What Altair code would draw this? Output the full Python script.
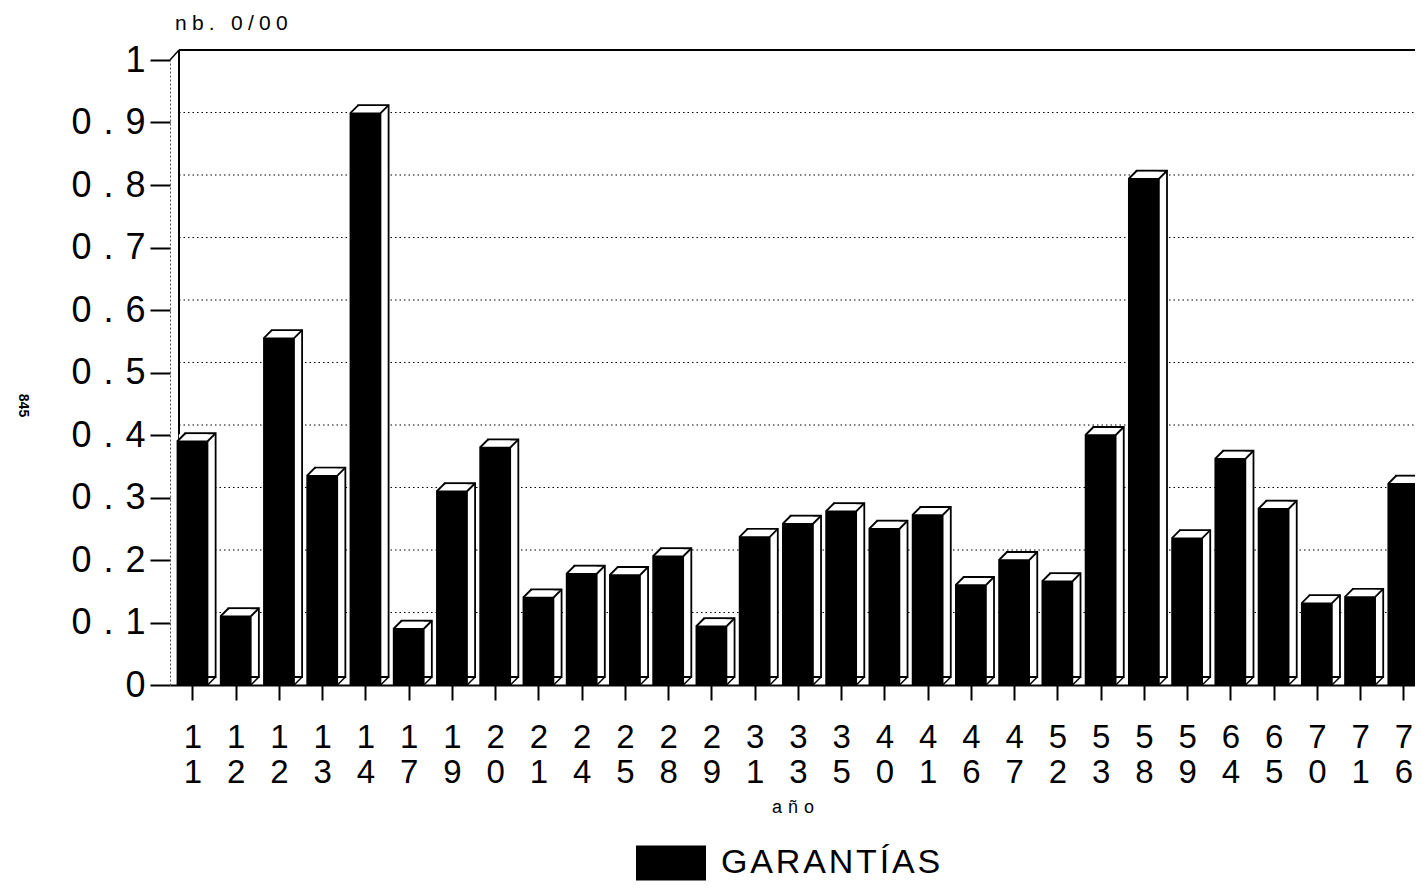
import json
import altair as alt
import pandas as pd

# ---- data ----
years = ["11", "12", "12", "13", "14", "17", "19", "20", "21", "24", "25", "28",
         "29", "31", "33", "35", "40", "41", "46", "47", "52", "53", "58", "59",
         "64", "65", "70", "71", "76"]
values = [0.39, 0.11, 0.555, 0.335, 0.915, 0.09, 0.31, 0.38, 0.14, 0.178, 0.176,
          0.206, 0.094, 0.237, 0.258, 0.278, 0.25, 0.272, 0.16, 0.2, 0.166, 0.40,
          0.81, 0.235, 0.362, 0.282, 0.131, 0.141, 0.322]
grid_levels = [0.1, 0.2, 0.3, 0.4, 0.5, 0.6, 0.7, 0.8, 0.9]
y_ticks = [0, 0.1, 0.2, 0.3, 0.4, 0.5, 0.6, 0.7, 0.8, 0.9, 1]
series = "GARANTÍAS"
y_title = "nb. 0/00"
x_title = "año"

# ---- styling constants ----
FONT = "Liberation Sans"
XMIN, XMAX = -0.52, 28.27
HALF = 0.35
DX, DY = 8, -8      # bar depth
WX, WY = 9, -10     # back wall offset
W, H = 1245, 625
SP3 = "\u2004"      # three-per-em space (letter spacing)
SP5 = "\u2005"      # four-per-em space
HAIR = "\u200a"


def spaced(s, sep):
    return sep.join(list(s))


df = pd.DataFrame({"i": list(range(len(years))), "v": values, "serie": series})
gdf = pd.DataFrame({"g": grid_levels, "x0": XMIN, "x1": XMAX})
fdf = pd.DataFrame({"x0": [XMIN], "x1": [XMAX], "y0": [0.0], "y1": [1.0]})

xs = alt.Scale(domain=[XMIN, XMAX], nice=False, zero=False)
ys = alt.Scale(domain=[0, 1], nice=False, zero=True)

x_label_expr = f"split({json.dumps(years)}[datum.value], '')"
y_label_expr = f"join(split(format(datum.value, '~g'), ''), '{SP3}')"

x_axis = alt.Axis(values=list(range(len(years))), labelExpr=x_label_expr,
                  title=spaced(x_title, SP3),
                  tickSize=15, tickWidth=2, tickColor="black", domainColor="black",
                  domainWidth=2, labelFontSize=33, labelLineHeight=35, labelPadding=21,
                  labelColor="black", labelFont=FONT, labelAngle=0, labelOverlap=False,
                  labelFlush=False, titleFont=FONT, titleFontSize=18,
                  titleFontWeight="normal", titlePadding=9, titleColor="black", grid=False)
y_axis = alt.Axis(values=y_ticks, labelExpr=y_label_expr, tickSize=20, tickWidth=2,
                  tickColor="black", domainDash=[2, 2], domainColor="#555", domainWidth=1,
                  labelFontSize=36, labelFont=FONT, labelColor="black", labelPadding=5,
                  labelFlush=False, labelOverlap=False, grid=False, title="845",
                  titleAngle=90, titleX=-155, titleY=345, titleFontSize=14,
                  titleFontWeight="bold", titleFont=FONT, titleColor="black")


def X(f):
    return alt.X(f, scale=xs, axis=x_axis)


def Y(f):
    return alt.Y(f, scale=ys, axis=y_axis)


base = alt.Chart(df).transform_calculate(lo=f"datum.i - {HALF}", hi=f"datum.i + {HALF}",
                                         z="0")

grid = alt.Chart(gdf).mark_rule(color="black", strokeWidth=1, strokeDash=[1.5, 3],
                                xOffset=WX, x2Offset=WX, yOffset=WY).encode(
    y=Y("g:Q"), x=X("x0:Q"), x2="x1:Q")

frame = alt.Chart(fdf)
wall_left = frame.mark_rule(color="black", strokeWidth=2, xOffset=WX,
                            y2Offset=WY).encode(x=X("x0:Q"), y=Y("y0:Q"), y2="y1:Q")
wall_top = frame.mark_rule(color="black", strokeWidth=2, xOffset=WX, x2Offset=WX,
                           yOffset=WY).encode(y=Y("y1:Q"), x=X("x0:Q"), x2="x1:Q")
wall_diag = frame.mark_rule(color="black", strokeWidth=1.5, x2Offset=WX,
                            y2Offset=WY).encode(x=X("x0:Q"), x2="x0:Q",
                                                y=Y("y1:Q"), y2="y1:Q")

back = base.mark_rect(fill="white", stroke="black", strokeWidth=1.8,
                      xOffset=DX, x2Offset=DX, yOffset=DY, y2Offset=DY).encode(
    x=X("lo:Q"), x2="hi:Q", y=Y("v:Q"), y2="z:Q")
cover = base.mark_rect(fill="white", xOffset=1.5, x2Offset=0, yOffset=DY + 1,
                       y2Offset=0).encode(x=X("lo:Q"), x2="hi:Q", y=Y("v:Q"), y2="v:Q")
edge_tl = base.mark_rule(color="black", strokeWidth=1.8, x2Offset=DX, y2Offset=DY).encode(
    x=X("lo:Q"), x2="lo:Q", y=Y("v:Q"), y2="v:Q")
edge_tr = base.mark_rule(color="black", strokeWidth=1.8, x2Offset=DX, y2Offset=DY).encode(
    x=X("hi:Q"), x2="hi:Q", y=Y("v:Q"), y2="v:Q")
edge_br = base.mark_rule(color="black", strokeWidth=1.5, x2Offset=DX, y2Offset=DY).encode(
    x=X("hi:Q"), x2="hi:Q", y=Y("z:Q"), y2="z:Q")

front = base.mark_rect(stroke="black", strokeWidth=1.5).encode(
    x=X("lo:Q"), x2="hi:Q", y=Y("v:Q"), y2="z:Q",
    color=alt.Color("serie:N", scale=alt.Scale(range=["black"]),
                    legend=alt.Legend(title=None, orient="none", legendX=466, legendY=768,
                                      symbolType="M-1,-0.5H1V0.5H-1Z", symbolSize=4900,
                                      symbolStrokeWidth=0, labelFontSize=34,
                                      labelLimit=500,
                                      labelExpr=f"join(split(datum.label, ''), '{HAIR}')",
                                      labelFont=FONT, labelColor="black", labelOffset=15,
                                      padding=0)))

chart = alt.layer(grid, wall_left, wall_top, wall_diag, back, cover, edge_tl, edge_tr,
                  edge_br, front).properties(
    width=W, height=H,
    autosize=alt.AutoSizeParams(type="none"),
    padding={"left": 162, "top": 52, "right": 0, "bottom": 200},
    title=alt.Title(spaced(y_title, SP5), anchor="start", frame="group", fontSize=21,
                    offset=8, dx=5, fontWeight="normal", font=FONT, color="black"),
    background="white",
).configure_view(stroke=None)

chart.save("out.html", embed_options={"renderer": "svg", "actions": False})
